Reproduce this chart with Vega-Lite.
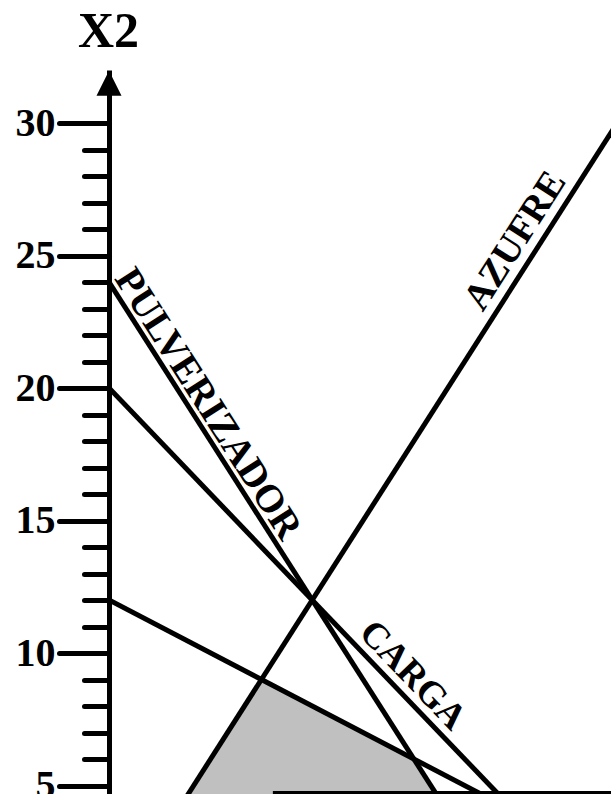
{
  "$schema": "https://vega.github.io/schema/vega-lite/v6.json",
  "width": 502,
  "height": 724,
  "autosize": {"type": "none"},
  "padding": {"left": 109, "top": 70, "right": 0, "bottom": 0},
  "background": "white",
  "config": {"view": {"stroke": null}},
  "datasets": {
    "region": [
      {"x1": 3, "x2": 4.5},
      {"x1": 6, "x2": 9},
      {"x1": 12, "x2": 6},
      {"x1": 13, "x2": 4.5}
    ],
    "lines": [
      {"name": "PULVERIZADOR", "x1": 0, "x2": 24},
      {"name": "PULVERIZADOR", "x1": 13, "x2": 4.5},
      {"name": "CARGA", "x1": 0, "x2": 20},
      {"name": "CARGA", "x1": 16, "x2": 4},
      {"name": "R3", "x1": 0, "x2": 12},
      {"name": "R3", "x1": 16, "x2": 4},
      {"name": "AZUFRE", "x1": 3, "x2": 4.5},
      {"name": "AZUFRE", "x1": 22, "x2": 33}
    ],
    "base": [{"x1": 6.45, "x1b": 20, "x2": 4.72}],
    "arrow": [{"x1": 0, "x2": 31.5}],
    "labels": [
      {"label": "PULVERIZADOR", "x1": 3.9, "x2": 19.4},
      {"label": "CARGA", "x1": 11.95, "x2": 9.15},
      {"label": "AZUFRE", "x1": 16.0, "x2": 25.55}
    ]
  },
  "layer": [
    {
      "data": {"name": "region"},
      "mark": {"type": "area", "color": "#c0c0c0", "clip": true},
      "encoding": {
        "x": {"field": "x1", "type": "quantitative", "scale": {"domain": [0, 19.76], "nice": false, "zero": false}, "axis": null},
        "y": {
          "field": "x2", "type": "quantitative",
          "scale": {"domain": [4.68, 32], "nice": false, "zero": false},
          "axis": {
            "title": "X2",
            "titleAngle": 0,
            "titleX": -1,
            "titleY": -24,
            "titleAlign": "center",
            "titleBaseline": "alphabetic",
            "titleFont": "Liberation Serif",
            "titleFontSize": 50,
            "titleFontWeight": "bold",
            "titleColor": "black",
            "values": [5,6,7,8,9,10,11,12,13,14,15,16,17,18,19,20,21,22,23,24,25,26,27,28,29,30],
            "tickCount": 60,
            "format": "d",
            "labelOverlap": false,
            "labelBound": false,
            "domainColor": "black",
            "domainWidth": 5,
            "tickColor": "black",
            "tickWidth": 5,
            "tickCap": "round",
            "tickSize": {"condition": {"test": "datum.value % 5 === 0", "value": 50}, "value": 25},
            "labelExpr": "datum.value % 5 === 0 ? datum.label : ''",
            "labelFont": "Liberation Serif",
            "labelFontSize": 40,
            "labelFontWeight": "bold",
            "labelColor": "black",
            "labelPadding": 4,
            "labelBaseline": "middle",
            "grid": false
          }
        },
        "y2": {"datum": 4.5}
      }
    },
    {
      "data": {"name": "lines"},
      "mark": {"type": "line", "color": "black", "strokeWidth": 5, "clip": true},
      "encoding": {
        "x": {"field": "x1", "type": "quantitative"},
        "y": {"field": "x2", "type": "quantitative"},
        "detail": {"field": "name"}
      }
    },
    {
      "data": {"name": "base"},
      "mark": {"type": "rule", "color": "black", "strokeWidth": 4, "clip": true},
      "encoding": {
        "x": {"field": "x1", "type": "quantitative"},
        "x2": {"field": "x1b"},
        "y": {"field": "x2", "type": "quantitative"}
      }
    },
    {
      "data": {"name": "arrow"},
      "mark": {"type": "point", "shape": "M0,-1L1,1L-1,1Z", "size": 625, "filled": true, "color": "black", "opacity": 1, "clip": false},
      "encoding": {
        "x": {"field": "x1", "type": "quantitative"},
        "y": {"field": "x2", "type": "quantitative"}
      }
    },
    {
      "data": {"name": "labels"},
      "transform": [{"filter": "datum.label === 'PULVERIZADOR'"}],
      "mark": {"type": "text", "angle": 57.4, "font": "Liberation Serif", "fontWeight": "bold", "fontSize": 39, "align": "center", "baseline": "middle", "color": "black"},
      "encoding": {
        "x": {"field": "x1", "type": "quantitative"},
        "y": {"field": "x2", "type": "quantitative"},
        "text": {"field": "label"}
      }
    },
    {
      "data": {"name": "labels"},
      "transform": [{"filter": "datum.label === 'CARGA'"}],
      "mark": {"type": "text", "angle": 46.2, "font": "Liberation Serif", "fontWeight": "bold", "fontSize": 37, "align": "center", "baseline": "middle", "color": "black"},
      "encoding": {
        "x": {"field": "x1", "type": "quantitative"},
        "y": {"field": "x2", "type": "quantitative"},
        "text": {"field": "label"}
      }
    },
    {
      "data": {"name": "labels"},
      "transform": [{"filter": "datum.label === 'AZUFRE'"}],
      "mark": {"type": "text", "angle": -57.4, "font": "Liberation Serif", "fontWeight": "bold", "fontSize": 38, "align": "center", "baseline": "middle", "color": "black"},
      "encoding": {
        "x": {"field": "x1", "type": "quantitative"},
        "y": {"field": "x2", "type": "quantitative"},
        "text": {"field": "label"}
      }
    }
  ]
}
